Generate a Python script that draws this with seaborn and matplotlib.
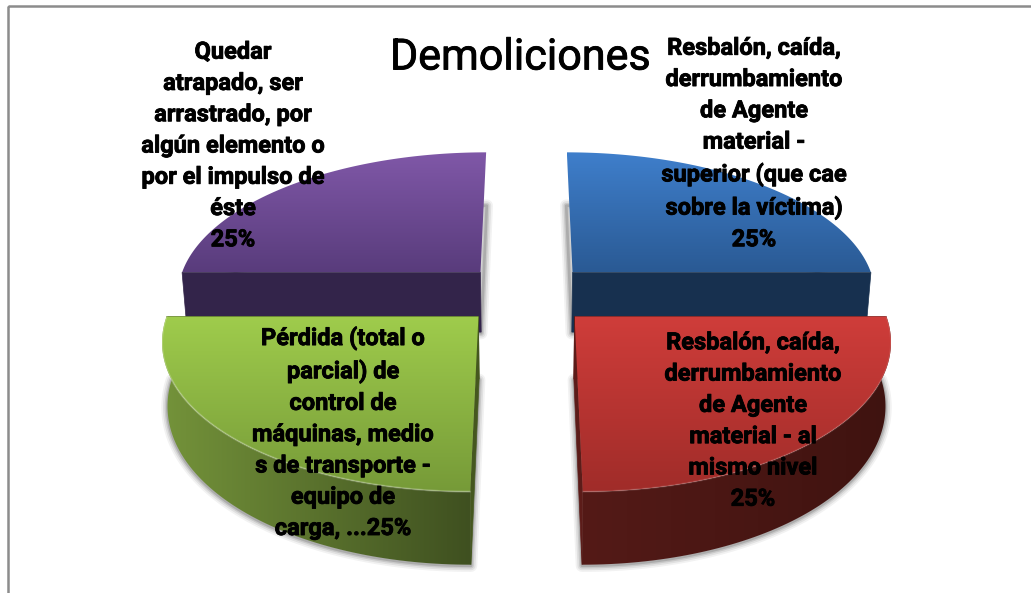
import numpy as np
import matplotlib
matplotlib.use("Agg")
import matplotlib.pyplot as plt
import matplotlib.patheffects as pe
from matplotlib.patches import Polygon, Rectangle
import seaborn as sns

# ---- data ----
title = "Demoliciones"
categories = [
    "Resbalón, caída,\nderrumbamiento\nde Agente\nmaterial -\nsuperior (que cae\nsobre la víctima)",
    "Resbalón, caída,\nderrumbamiento\nde Agente\nmaterial - al\nmismo nivel",
    "Pérdida (total o\nparcial) de\ncontrol de\nmáquinas, medio\ns de transporte -\nequipo de\ncarga, ...",
    "Quedar\natrapado, ser\narrastrado, por\nalgún elemento o\npor el impulso de\néste",
]
shares = [25, 25, 25, 25]
label_seps = ["\n", "\n", "", "\n"]

# ---- style ----
top_colors = [("#3f7fcc", "#2a5a94"), ("#cf3d3a", "#a02c29"), ("#9fcc4c", "#769a38"), ("#8058a8", "#593c7c")]
side_colors = [("#17304f", "#17304f"), ("#541a17", "#3f1310"), ("#74933a", "#3f5020"), ("#33244a", "#33244a")]
cut_colors = ["#17304f", "#5c1c19", "#45571f", "#33244a"]
rim_alpha = [0.0, 0.10, 0.22, 0.0]
back_slices = [0, 3]
label_xy = [(754, 144), (753, 421), (343, 433), (233, 146)]

sns.set_theme(style="white")
plt.rcParams["font.family"] = ["Roboto", "Liberation Sans", "DejaVu Sans"]

# ---- perspective pie geometry ----
CX, CY, RX, RY = 526.5, 294.0, 305.0, 143.0
K, EXPLODE, DEPTH, LOWER = 0.143, 0.218, 61.0, 0.985


def project(u, v, lower=False):
    w = 1 + K * v
    x = RX * u / w
    y = -RY * v / w
    if lower:
        return CX + x * LOWER, CY + y + DEPTH / w
    return CX + x, CY + y


fig = plt.figure(figsize=(10.31, 5.93), dpi=100, facecolor="white")
ax = fig.add_axes([0, 0, 1, 1])


def gradient_fill(xy, colors, vertical=True, zorder=2):
    poly = Polygon(xy, closed=True, facecolor="none", edgecolor="none", zorder=zorder)
    ax.add_patch(poly)
    cmap = sns.blend_palette(list(colors), as_cmap=True)
    g = np.linspace(0, 1, 256)
    g = g[:, None] if vertical else g[None, :]
    x0, y0 = xy.min(axis=0)
    x1, y1 = xy.max(axis=0)
    im = ax.imshow(g, extent=(x0, x1, y1, y0), cmap=cmap, aspect="auto",
                   origin="upper", zorder=zorder, interpolation="bilinear")
    im.set_clip_path(poly)


angles = 90 - np.cumsum([0] + shares) / sum(shares) * 360
order = [0, 3, 1, 2]  # painter's order: back slices first

for i in order:
    a0, a1 = np.radians(angles[i]), np.radians(angles[i + 1])
    mid = (a0 + a1) / 2
    ou, ov = EXPLODE * np.cos(mid), EXPLODE * np.sin(mid)
    t = np.linspace(a0, a1, 80)
    au, av = ou + np.cos(t), ov + np.sin(t)
    top_arc = np.column_stack(project(au, av))
    low_arc = np.column_stack(project(au, av, lower=True))
    apex_top = np.array(project(ou, ov))
    apex_low = np.array(project(ou, ov, lower=True))
    top_face = np.vstack([apex_top, top_arc])
    low_face = np.vstack([apex_low, low_arc])

    # soft shadow round the lower plane
    for lw, alpha in [(9, 0.05), (6.5, 0.07), (4, 0.10), (2, 0.14)]:
        ax.add_patch(Polygon(low_face + [0, 1], closed=True, facecolor="none",
                             edgecolor="black", linewidth=lw, alpha=alpha,
                             joinstyle="round", zorder=1 + 0.1 * order.index(i)))
    z = 2 + order.index(i)
    # cut faces: the back slices only show the one facing the viewer
    ends = [(top_arc[0], low_arc[0]), (top_arc[-1], low_arc[-1])]
    for end_top, end_low in ends:
        if i in back_slices and abs(end_top[1] - apex_top[1]) > 1:
            continue
        quad = np.vstack([apex_top, end_top, end_low, apex_low])
        ax.add_patch(Polygon(quad, closed=True, facecolor=cut_colors[i],
                             edgecolor=cut_colors[i], linewidth=0.5, zorder=z))
    # curved side
    if i not in back_slices:
        strip = np.vstack([top_arc, low_arc[::-1]])
        gradient_fill(strip, side_colors[i], vertical=False, zorder=z + 0.1)
    # top face
    gradient_fill(top_face, top_colors[i], vertical=True, zorder=z + 0.2)
    # bevel highlight along the rim
    if rim_alpha[i] > 0:
        ax.plot(top_arc[:, 0], top_arc[:, 1], color="white", alpha=rim_alpha[i], lw=1.4, zorder=z + 0.3)

# data labels
heavier = [pe.withStroke(linewidth=0.6, foreground="black")]
for name, share, sep, (lx, ly) in zip(categories, shares, label_seps, label_xy):
    ax.text(lx, ly, f"{name}{sep}{share}%", ha="center", va="center", ma="center",
            fontsize=17, fontweight="bold", color="black", linespacing=1.46, zorder=20,
            path_effects=heavier)

ax.text(520, 58, title, ha="center", va="center", fontsize=31, color="black", zorder=20,
        path_effects=heavier)

# outer frame (only its top and left edges lie inside the picture)
ax.add_patch(Rectangle((8, 6), 1200, 800, facecolor="none", edgecolor="#8c8c8c", linewidth=1.8, zorder=30))

ax.set_xlim(0, 1031)
ax.set_ylim(593, 0)
ax.axis("off")
fig.savefig("out.png", dpi=100, facecolor="white")
